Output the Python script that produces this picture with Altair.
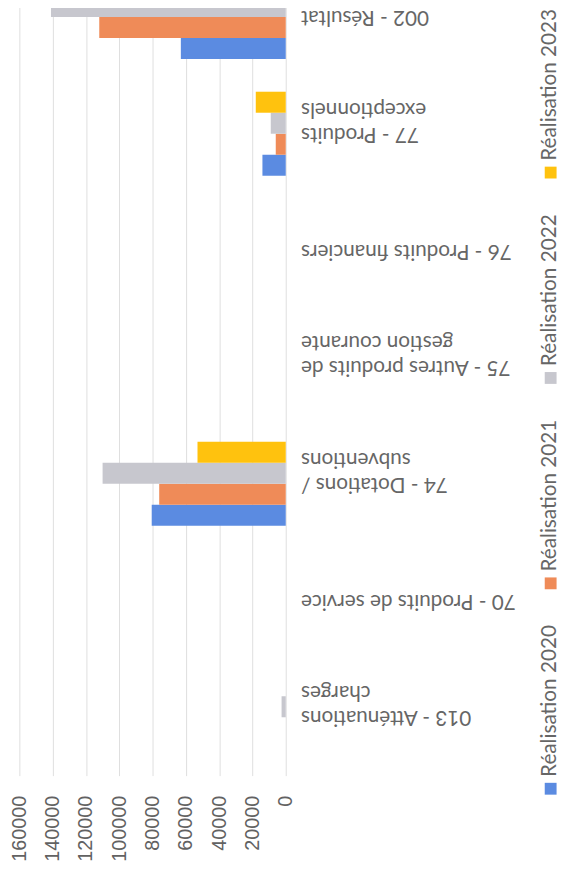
import altair as alt
import pandas as pd

# Categories (top to bottom as they appear in the rotated scan)
categories = [
    "002 - Résultat\nde fonctionnement",
    "77 - Produits\nexceptionnels",
    "76 - Produits financiers",
    "75 - Autres produits de\ngestion courante",
    "74 - Dotations /\nsubventions",
    "70 - Produits de service",
    "013 - Atténuations\ncharges",
]
series = ["Réalisation 2020", "Réalisation 2021", "Réalisation 2022", "Réalisation 2023"]
r2020 = [63000, 14000, 0, 0, 80500, 0, 0]
r2021 = [112000, 6000, 0, 0, 76000, 0, 0]
r2022 = [141000, 9000, 0, 0, 110000, 0, 2500]
r2023 = [None, 18000, 0, 0, 53000, 0, 0]  # 002 / 2023 is cut off in the scan
value_ticks = [0, 20000, 40000, 60000, 80000, 100000, 120000, 140000, 160000]
colors = ["#5b8be1", "#ef8b58", "#c7c7ce", "#ffc20e"]

rows = []
for s, vals in zip(series, [r2020, r2021, r2022, r2023]):
    for c, v in zip(categories, vals):
        rows.append({"cat": c, "series": s, "value": v})
df = pd.DataFrame(rows)
legend_df = pd.DataFrame({"series": series})

color = alt.Color("series:N", scale=alt.Scale(domain=series, range=colors), legend=None)

# two-line labels: pad the shorter line so that lines look centred inside a left-anchored block
SP = "\u2005"
s0 = "split(datum.label, '\\n')[0]"
s1 = "split(datum.label, '\\n')[1]"
mx = f"max(length({s0}), length({s1}))"
label_expr = (
    f"indexof(datum.label, '\\n') < 0 ? datum.label : "
    f"[pad({s0}, {mx}, '{SP}'), pad({s1}, {mx}, '{SP}')]"
)

bars = alt.Chart(df).mark_bar().encode(
    y=alt.Y(
        "cat:N",
        sort=categories,
        scale=alt.Scale(paddingInner=0.28, paddingOuter=0.14),
        axis=alt.Axis(
            orient="right", title=None, ticks=False, domain=False, grid=False,
            labelAngle=180, labelAlign="right", labelBaseline="middle",
            labelPadding=15, labelLimit=0, labelLineHeight=25.5,
            labelExpr=label_expr,
            labelFont="Lato", labelFontSize=21, labelColor="#666666",
        ),
    ),
    x=alt.X(
        "value:Q",
        scale=alt.Scale(domain=[0, 160000], reverse=True, nice=False, zero=True),
        axis=alt.Axis(
            values=value_ticks, format="d", title=None, ticks=False, domain=False,
            grid=True, gridColor="#dedede", gridWidth=1,
            labelAngle=270, labelAlign="right", labelBaseline="middle",
            labelPadding=20, labelFlush=False, labelOverlap=False,
            labelFont="Liberation Sans", labelFontSize=20, labelColor="#626262",
        ),
    ),
    yOffset=alt.YOffset("series:N", sort=series[::-1], scale=alt.Scale(paddingInner=0, paddingOuter=0)),
    color=color,
)

leg_y = alt.Y(
    "series:N", sort=series[::-1],
    scale=alt.Scale(type="point", range=[216.8, 841.3], padding=0),
    axis=None,
)

legend_sq = alt.Chart(legend_df).mark_square(size=144, filled=True, opacity=1).encode(
    y=leg_y, x=alt.value(538.5), color=color,
)
legend_txt = alt.Chart(legend_df).mark_text(
    angle=270, align="left", baseline="middle", dx=12,
    font="Lato", fontSize=21, color="#666666",
).encode(y=leg_y, x=alt.value(538), text="series:N")

chart = alt.layer(bars, legend_sq, legend_txt).resolve_scale(y="independent").properties(
    width=270, height=828,
    padding={"top": -55.8, "left": 11.5, "right": 280, "bottom": 85.8},
    autosize=alt.AutoSizeParams(type="none"),
).configure_view(stroke=None)

chart.save("out.html", embed_options={"renderer": "svg", "actions": False})
